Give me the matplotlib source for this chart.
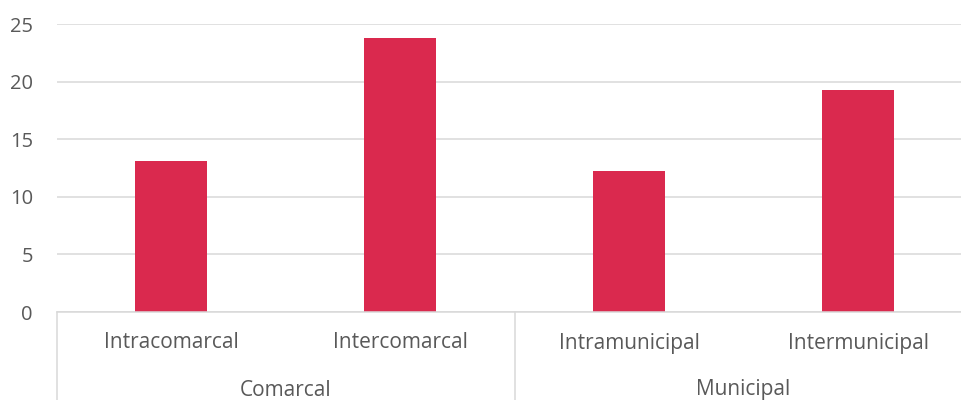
import numpy as np
import matplotlib.pyplot as plt

categorias = ['Intracomarcal', 'Intercomarcal', 'Intramunicipal', 'Intermunicipal']
grupos = ['Comarcal', 'Municipal']
valores = [13.1, 23.8, 12.25, 19.3]
yticks = [0, 5, 10, 15, 20, 25]

color_barra = '#DA294E'
color_texto = '#595959'
color_linea = '#D9D9D9'

plt.rcParams['font.family'] = ['Open Sans', 'DejaVu Sans']

fig = plt.figure(figsize=(9.61, 4.0), dpi=100)
ax = fig.add_axes([56.5 / 961, 88 / 400, 916 / 961, 288 / 400])

x = np.arange(len(categorias))
ax.bar(x, valores, width=0.314, color=color_barra, zorder=3)

ax.set_xlim(-0.5, len(categorias) - 0.5)
ax.set_ylim(0, 25)
ax.set_yticks(yticks)
ax.set_yticklabels([str(v) for v in yticks], fontsize=14.5, color=color_texto)
ax.tick_params(axis='y', length=0, pad=17)
ax.set_xticks([])

for s in ax.spines.values():
    s.set_visible(False)

# lineas de cuadricula
ax.grid(axis='y', color=color_linea, linewidth=1.1, zorder=0)
ax.axhline(0, color=color_linea, linewidth=1.1, zorder=4, clip_on=False)

# eje de categorias en dos niveles
trans = ax.get_xaxis_transform()
fondo = -88 / 288
for xb in [-0.5, 1.5, 3.5]:
    ax.plot([xb, xb], [0, fondo], color=color_linea, linewidth=1.1,
            transform=trans, clip_on=False)

for i, cat in enumerate(categorias):
    ax.text(i, -31 / 288, cat, transform=trans, ha='center', va='center',
            fontsize=15, color=color_texto)

for j, g in enumerate(grupos):
    ax.text(2 * j + 0.5, -78 / 288, g, transform=trans, ha='center', va='center',
            fontsize=15, color=color_texto)

fig.savefig('out.png', dpi=100)
